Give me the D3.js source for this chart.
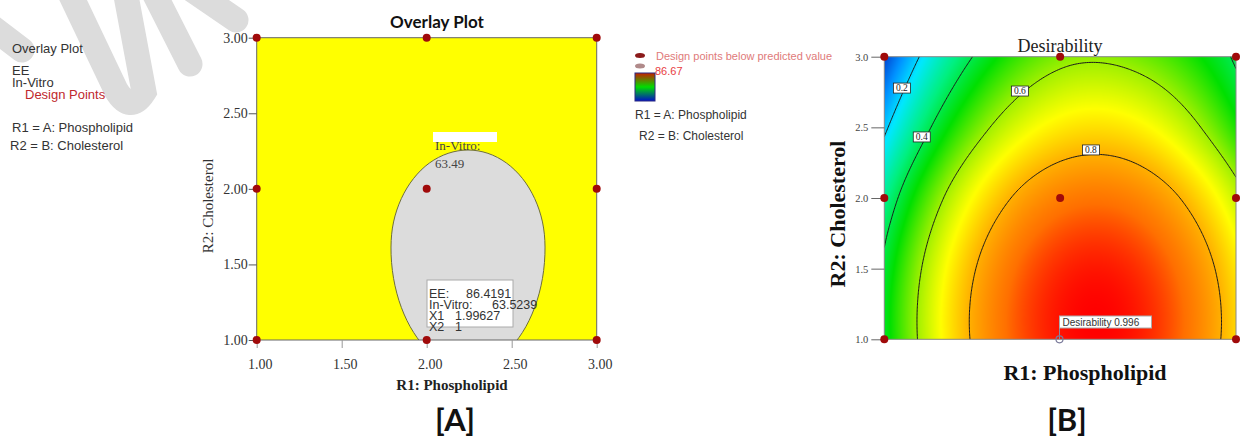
<!DOCTYPE html>
<html>
<head>
<meta charset="utf-8">
<script src="https://cdn.jsdelivr.net/npm/d3@7"></script>
<style>
  body { margin: 0; background: #fff; }
  svg { display: block; }
  .sans { font-family: "Liberation Sans", Arial, sans-serif; }
  .serif { font-family: "Liberation Serif", "Times New Roman", serif; }
  .lato { font-family: Lato, "Open Sans", sans-serif; font-weight: 700; }
</style>
</head>
<body>
<svg id="chart" width="1244" height="439"></svg>
<script>

// ---- data ----
// design points (R1, R2)
const designX = [1, 1, 1, 2, 2, 2, 3, 3, 3];
const designY = [1, 2, 3, 1, 2, 3, 1, 2, 3];

const ticksA = [1.0, 1.5, 2.0, 2.5, 3.0];
const ticksB = [1.0, 1.5, 2.0, 2.5, 3.0];

// outline of the grey region on the overlay plot
const greyX = [2.696, 2.681, 2.635, 2.563, 2.469, 2.360, 2.243, 2.126, 2.016, 1.923, 1.851, 1.805,
               1.790, 1.805, 1.851, 1.923, 2.016, 2.126, 2.243, 2.360, 2.469, 2.563, 2.635, 2.681];
const greyY = [1.615, 1.781, 1.936, 2.069, 2.171, 2.235, 2.257, 2.235, 2.171, 2.069, 1.936, 1.781,
               1.615, 1.408, 1.215, 1.050, 0.922, 0.842, 0.815, 0.842, 0.922, 1.050, 1.215, 1.408];

// desirability on a coarse grid (rows: R2, cols: R1)
const gridX = [1, 1.5, 2, 2.5, 3];
const gridY = [1, 1.5, 2, 2.5, 3];
const desir = [
  [0.438, 0.807, 0.982, 0.963, 0.749],
  [0.420, 0.789, 0.964, 0.945, 0.731],
  [0.330, 0.699, 0.874, 0.855, 0.641],
  [0.180, 0.549, 0.724, 0.705, 0.491],
  [0.030, 0.399, 0.574, 0.555, 0.385]
];
const levels = [0.2, 0.4, 0.6, 0.8];
const levelLabelX = [1.10, 1.213, 1.771, 2.175];
const levelLabelY = [2.778, 2.432, 2.757, 2.34];

// optimum
const optX = 1.99627, optY = 1;
const optEE = 86.4191, optInVitro = 63.5239, optD = 0.996;
const inVitroLimit = 63.49, eeMax = 86.67;

// ---- setup ----
const svg = d3.select('#chart');
const red = '#a00a0a';

const defs = svg.append('defs');

// watermark
const wm = svg.append('g').attr('fill', 'none').attr('stroke', '#dcdcdc')
  .attr('stroke-width', 25).attr('stroke-linecap', 'round');
['M -20,18 L 22,50',
 'M 66,-15 L 116,90 Q 130,114 144,92 L 124,-15',
 'M 150,-15 L 190,64',
 'M 185,-15 L 236,20'].forEach(d => wm.append('path').attr('d', d));

// ---- left legend ----
const leg = svg.append('g').attr('class', 'sans').attr('font-size', 13).attr('fill', '#333');
leg.append('text').attr('x', 12).attr('y', 53).text('Overlay Plot');
leg.append('text').attr('x', 12).attr('y', 75).text('EE');
leg.append('text').attr('x', 12).attr('y', 87).text('In-Vitro');
leg.append('text').attr('x', 25).attr('y', 99).attr('fill', '#c0282d').text('Design Points');
leg.append('text').attr('x', 12).attr('y', 132).text('R1 = A: Phospholipid');
leg.append('text').attr('x', 10).attr('y', 150).text('R2 = B: Cholesterol');

// ---- panel A: overlay plot ----
const xA = d3.scaleLinear().domain([1, 3]).range([256.7, 596.7]);
const yA = d3.scaleLinear().domain([1, 3]).range([340, 37.7]);

defs.append('clipPath').attr('id', 'clipA').append('rect')
  .attr('x', xA(1)).attr('y', yA(3)).attr('width', xA(3) - xA(1)).attr('height', yA(1) - yA(3));

const gA = svg.append('g');
gA.append('rect')
  .attr('x', xA(1)).attr('y', yA(3)).attr('width', xA(3) - xA(1)).attr('height', yA(1) - yA(3))
  .attr('fill', '#ffff00');

const greyPts = greyX.map((d, i) => [d, greyY[i]]);
gA.append('path')
  .datum(greyPts)
  .attr('clip-path', 'url(#clipA)')
  .attr('d', d3.line().x(d => xA(d[0])).y(d => yA(d[1])).curve(d3.curveCatmullRomClosed))
  .attr('fill', '#dcdcdc')
  .attr('stroke', '#6e6e3c')
  .attr('stroke-width', 1);

gA.append('rect')
  .attr('x', xA(1)).attr('y', yA(3)).attr('width', xA(3) - xA(1)).attr('height', yA(1) - yA(3))
  .attr('fill', 'none').attr('stroke', '#666').attr('stroke-width', 1);

// axes
const axA_y = gA.append('g').attr('transform', `translate(${xA(1)},0)`)
  .call(d3.axisLeft(yA).tickValues(ticksA).tickFormat(d3.format('.2f')).tickSize(8).tickPadding(1));
axA_y.select('.domain').remove();
axA_y.selectAll('line').attr('stroke', '#555');
axA_y.selectAll('text').attr('class', 'serif').attr('font-size', 14).attr('fill', '#333');
axA_y.attr('font-family', null).attr('font-size', null);

const axA_x = gA.append('g').attr('transform', `translate(0,${yA(1)})`)
  .call(d3.axisBottom(xA).tickValues(ticksA).tickFormat(d3.format('.2f')).tickSize(8).tickPadding(11));
axA_x.select('.domain').remove();
axA_x.selectAll('line').attr('stroke', '#999');
axA_x.selectAll('text').attr('class', 'serif').attr('font-size', 14).attr('fill', '#333').attr('dx', 3);
axA_x.attr('font-family', null).attr('font-size', null);

gA.append('text').attr('class', 'lato').attr('font-size', 17).attr('text-anchor', 'middle')
  .attr('x', 437).attr('y', 28).attr('fill', '#111').text('Overlay Plot');
gA.append('text').attr('class', 'serif').attr('font-size', 15).attr('font-weight', 700)
  .attr('text-anchor', 'middle').attr('x', 452).attr('y', 390).attr('fill', '#222').text('R1: Phospholipid');
gA.append('text').attr('class', 'serif').attr('font-size', 15).attr('text-anchor', 'middle')
  .attr('transform', 'translate(213,206) rotate(-90)').attr('fill', '#333').text('R2: Cholesterol');

// in-vitro limit label
gA.append('rect').attr('x', 433).attr('y', 132).attr('width', 64).attr('height', 10).attr('fill', '#fff');
gA.append('text').attr('class', 'serif').attr('font-size', 13).attr('fill', '#444')
  .attr('x', 435).attr('y', 150).text('In-Vitro:');
gA.append('text').attr('class', 'serif').attr('font-size', 13).attr('fill', '#444')
  .attr('x', 435).attr('y', 168).text(inVitroLimit.toFixed(2));

// design points
gA.selectAll('.ptA').data(designX.map((d, i) => [d, designY[i]]))
  .join('circle').attr('class', 'ptA')
  .attr('cx', d => xA(d[0])).attr('cy', d => yA(d[1])).attr('r', 4).attr('fill', red);

// flag box
const flag = gA.append('g').attr('class', 'sans').attr('font-size', 12.5).attr('fill', '#333');
flag.append('rect').attr('x', 427).attr('y', 280).attr('width', 86).attr('height', 47)
  .attr('fill', '#fff').attr('stroke', '#aaa');
flag.append('text').attr('x', 429).attr('y', 298).text('EE:');
flag.append('text').attr('x', 466).attr('y', 298).text(optEE);
flag.append('text').attr('x', 429).attr('y', 309).text('In-Vitro:');
flag.append('text').attr('x', 492).attr('y', 309).text(optInVitro);
flag.append('text').attr('x', 429).attr('y', 320).text('X1');
flag.append('text').attr('x', 455).attr('y', 320).text(optX);
flag.append('text').attr('x', 429).attr('y', 331).text('X2');
flag.append('text').attr('x', 455).attr('y', 331).text(optY);

svg.append('text').attr('class', 'lato').attr('font-size', 31).attr('text-anchor', 'middle')
  .attr('x', 455).attr('y', 431).attr('fill', '#111').text('[A]');

// ---- middle legend ----
const mid = svg.append('g').attr('class', 'sans');
mid.append('ellipse').attr('cx', 640).attr('cy', 55.5).attr('rx', 5).attr('ry', 2.5).attr('fill', '#8b1a1a');
mid.append('text').attr('x', 656).attr('y', 60).attr('font-size', 11).attr('fill', '#e07a7a')
  .text('Design points below predicted value');
mid.append('ellipse').attr('cx', 640).attr('cy', 66).attr('rx', 5).attr('ry', 2.5).attr('fill', '#b08a8a');
mid.append('text').attr('x', 655).attr('y', 75).attr('font-size', 11).attr('fill', '#e8403f').text(eeMax);
const lg = defs.append('linearGradient').attr('id', 'ramp').attr('x1', 0).attr('x2', 0).attr('y1', 0).attr('y2', 1);
[['0', '#c81e00'], ['0.5', '#00dd00'], ['1', '#0010c8']].forEach(s =>
  lg.append('stop').attr('offset', s[0]).attr('stop-color', s[1]));
mid.append('rect').attr('x', 635).attr('y', 73).attr('width', 20).attr('height', 28)
  .attr('fill', 'url(#ramp)').attr('stroke', '#2a2a80').attr('stroke-width', 1);
mid.append('text').attr('x', 635).attr('y', 119).attr('font-size', 12).attr('fill', '#333').text('R1 = A: Phospholipid');
mid.append('text').attr('x', 639).attr('y', 140).attr('font-size', 12).attr('fill', '#333').text('R2 = B: Cholesterol');

// ---- panel B: desirability ----
const xB = d3.scaleLinear().domain([1, 3]).range([884.3, 1236]);
const yB = d3.scaleLinear().domain([1, 3]).range([339.3, 56.7]);

const colorD = d3.scaleLinear()
  .domain([0.0, 0.12, 0.22, 0.35, 0.47, 0.6, 0.7, 0.8, 0.9, 1.0])
  .range(['#0028c0', '#0090ff', '#00e8ff', '#00f080', '#00e000', '#a0f000', '#ffff00', '#ffb000', '#ff7000', '#ff0000'])
  .clamp(true);

// bicubic (catmull-rom) lookup on the grid
function padRow(r) {
  const n = r.length;
  return [3 * r[0] - 3 * r[1] + r[2], ...r, 3 * r[n - 1] - 3 * r[n - 2] + r[n - 3]];
}
const rowsP = desir.map(padRow);
const nr = rowsP.length;
const ext = [
  rowsP[0].map((v, k) => 3 * v - 3 * rowsP[1][k] + rowsP[2][k]),
  ...rowsP,
  rowsP[nr - 1].map((v, k) => 3 * v - 3 * rowsP[nr - 2][k] + rowsP[nr - 3][k])
];
function cr(p0, p1, p2, p3, t) {
  return 0.5 * (2 * p1 + (-p0 + p2) * t + (2 * p0 - 5 * p1 + 4 * p2 - p3) * t * t + (-p0 + 3 * p1 - 3 * p2 + p3) * t * t * t);
}
function desirAt(x, y) {
  const nx = gridX.length - 1, ny = gridY.length - 1;
  const gx = Math.max(0, Math.min(nx, (x - gridX[0]) / (gridX[1] - gridX[0])));
  const gy = Math.max(0, Math.min(ny, (y - gridY[0]) / (gridY[1] - gridY[0])));
  const i = Math.min(nx - 1, Math.floor(gx)), j = Math.min(ny - 1, Math.floor(gy));
  const tx = gx - i, ty = gy - j;
  const col = [0, 1, 2, 3].map(k => {
    const r = ext[j + k];
    return cr(r[i], r[i + 1], r[i + 2], r[i + 3], tx);
  });
  return cr(col[0], col[1], col[2], col[3], ty);
}

const bx0 = xB(1), by0 = yB(3);
const bw = Math.round(xB(3) - xB(1)), bh = Math.round(yB(1) - yB(3));
const cv = document.createElement('canvas');
cv.width = bw; cv.height = bh;
const ctx = cv.getContext('2d');
const img = ctx.createImageData(bw, bh);
for (let py = 0; py < bh; py++) {
  for (let px = 0; px < bw; px++) {
    const v = desirAt(xB.invert(bx0 + px + 0.5), yB.invert(by0 + py + 0.5));
    const c = d3.rgb(colorD(v));
    const o = (py * bw + px) * 4;
    img.data[o] = c.r; img.data[o + 1] = c.g; img.data[o + 2] = c.b; img.data[o + 3] = 255;
  }
}
ctx.putImageData(img, 0, 0);

defs.append('clipPath').attr('id', 'clipB').append('rect')
  .attr('x', bx0).attr('y', by0).attr('width', xB(3) - xB(1)).attr('height', yB(1) - yB(3));

const gB = svg.append('g');
gB.append('image').attr('href', cv.toDataURL())
  .attr('x', bx0).attr('y', by0).attr('width', xB(3) - xB(1)).attr('height', yB(1) - yB(3))
  .attr('preserveAspectRatio', 'none');

// contour lines
const step = 0.01, lo = 0.9, nG = 221;
const vals = new Array(nG * nG);
for (let j = 0; j < nG; j++) for (let i = 0; i < nG; i++) vals[j * nG + i] = desirAt(lo + i * step, lo + j * step);
const conts = d3.contours().size([nG, nG]).thresholds(levels)(vals);
const proj = d3.geoTransform({
  point(px, py) { this.stream.point(xB(lo + (px - 0.5) * step), yB(lo + (py - 0.5) * step)); }
});
gB.append('g').attr('clip-path', 'url(#clipB)')
  .selectAll('path').data(conts).join('path')
  .attr('d', d3.geoPath(proj))
  .attr('fill', 'none').attr('stroke', '#1a1a1a').attr('stroke-width', 1);

gB.append('rect')
  .attr('x', bx0).attr('y', by0).attr('width', xB(3) - xB(1)).attr('height', yB(1) - yB(3))
  .attr('fill', 'none').attr('stroke', '#888').attr('stroke-width', 1);

// contour labels
const labs = gB.selectAll('.clab').data(levels).join('g').attr('class', 'clab')
  .attr('transform', (d, i) => `translate(${xB(levelLabelX[i])},${yB(levelLabelY[i])})`);
labs.append('rect').attr('x', -8.5).attr('y', -5).attr('width', 17).attr('height', 10)
  .attr('fill', '#fff').attr('stroke', '#222').attr('stroke-width', 0.8);
labs.append('text').attr('class', 'serif').attr('font-size', 9.5).attr('text-anchor', 'middle')
  .attr('y', 3.3).attr('fill', '#222').text(d => d);

// axes
const axB_y = gB.append('g').attr('transform', `translate(${bx0},0)`)
  .call(d3.axisLeft(yB).tickValues(ticksB).tickFormat(d3.format('.1f')).tickSize(13).tickPadding(3));
axB_y.select('.domain').remove();
axB_y.selectAll('line').attr('stroke', '#666');
axB_y.selectAll('text').attr('class', 'serif').attr('font-size', 10.5).attr('fill', '#444');
axB_y.attr('font-family', null).attr('font-size', null);

// x tick labels are cut off in the original, only their tops show
defs.append('clipPath').attr('id', 'clipBx').append('rect')
  .attr('x', 860).attr('y', 335).attr('width', 400).attr('height', 20);
const axB_x = gB.append('g').attr('transform', `translate(0,${yB(1)})`).attr('clip-path', 'url(#clipBx)')
  .call(d3.axisBottom(xB).tickValues(ticksB).tickFormat(d3.format('.1f')).tickSize(8).tickPadding(4));
axB_x.select('.domain').remove();
axB_x.selectAll('line').attr('stroke', '#777');
axB_x.selectAll('text').attr('class', 'serif').attr('font-size', 10.5).attr('fill', '#999');
axB_x.attr('font-family', null).attr('font-size', null);

gB.append('text').attr('class', 'serif').attr('font-size', 18).attr('text-anchor', 'middle')
  .attr('x', 1060).attr('y', 52).attr('fill', '#222').text('Desirability');
gB.append('text').attr('class', 'serif').attr('font-size', 22).attr('font-weight', 700)
  .attr('text-anchor', 'middle').attr('x', 1085).attr('y', 380).attr('fill', '#111').text('R1: Phospholipid');
gB.append('text').attr('class', 'serif').attr('font-size', 22).attr('font-weight', 700)
  .attr('text-anchor', 'middle').attr('transform', 'translate(845,214) rotate(-90)')
  .attr('fill', '#111').text('R2: Cholesterol');

// design points (optimum marked hollow)
const ptsB = designX.map((d, i) => [d, designY[i]]);
gB.selectAll('.ptB').data(ptsB.filter(d => !(d[0] === 2 && d[1] === 1)))
  .join('circle').attr('class', 'ptB')
  .attr('cx', d => xB(d[0])).attr('cy', d => yB(d[1])).attr('r', 4).attr('fill', red);

gB.append('line').attr('x1', xB(optX)).attr('x2', xB(optX)).attr('y1', yB(optY)).attr('y2', 316)
  .attr('stroke', '#8a8aa0').attr('stroke-width', 1);
gB.append('circle').attr('cx', xB(optX)).attr('cy', yB(optY)).attr('r', 3.5)
  .attr('fill', 'none').attr('stroke', '#7a7a9a').attr('stroke-width', 1.2);
gB.append('rect').attr('x', xB(optX)).attr('y', 316).attr('width', 92).attr('height', 12)
  .attr('fill', '#fff').attr('stroke', '#aaa');
gB.append('text').attr('class', 'sans').attr('font-size', 10).attr('fill', '#333')
  .attr('x', xB(optX) + 3).attr('y', 325.5).text('Desirability ' + optD);

svg.append('text').attr('class', 'lato').attr('font-size', 31).attr('text-anchor', 'middle')
  .attr('x', 1067).attr('y', 431).attr('fill', '#111').text('[B]');

</script>
</body>
</html>
